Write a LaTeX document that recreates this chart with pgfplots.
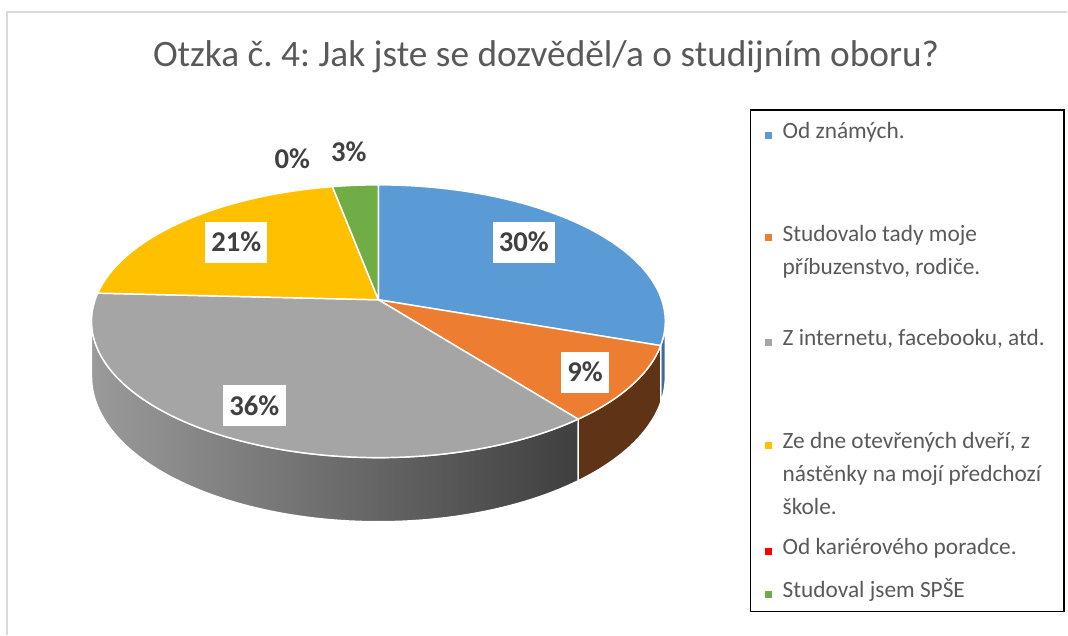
\documentclass[border=0pt]{standalone}
\usepackage{pgfplots}
\pgfplotsset{compat=1.18}
\usepackage{fontspec}
\setmainfont{Carlito}
\frenchspacing
\definecolor{cBlue}{HTML}{5B9BD5}
\definecolor{cOrange}{HTML}{ED7D31}
\definecolor{cGray}{HTML}{A5A5A5}
\definecolor{cYellow}{HTML}{FFC000}
\definecolor{cRed}{HTML}{FF0000}
\definecolor{cGreen}{HTML}{70AD47}
\definecolor{wBlue}{HTML}{3F6D99}
\definecolor{wOrange}{HTML}{5F3315}
\definecolor{wGrayL}{HTML}{9A9A9A}
\definecolor{wGrayR}{HTML}{3F3F3F}
\definecolor{cText}{HTML}{595959}
\definecolor{cLab}{HTML}{404040}
\definecolor{cFrame}{HTML}{D9D9D9}
% data (percent of answers)
\def\vA{30.3}% Od známých.
\def\vB{9.1}%  Studovalo tady moje příbuzenstvo, rodiče.
\def\vC{36.4}% Z internetu, facebooku, atd.
\def\vD{21.2}% Ze dne otevřených dveří, ...
\def\vE{0}%    Od kariérového poradce.
\def\vF{3.0}%  Studoval jsem SPŠE
\pgfmathsetmacro\aA{0}
\pgfmathsetmacro\aB{\aA+3.6*\vA}
\pgfmathsetmacro\aC{\aB+3.6*\vB}
\pgfmathsetmacro\aD{\aC+3.6*\vC}
\pgfmathsetmacro\aE{\aD+3.6*\vD}
\pgfmathsetmacro\aF{\aE+3.6*\vE}
\pgfmathsetmacro\aG{\aF+3.6*\vF}
\pgfmathsetmacro\vis{acos(-0.1575)}
\pgfmathsetmacro\visR{360-\vis}
\newcommand\sector[3]{%
  \addplot[fill=#3, draw=white, line width=1.1pt, line join=round, domain=#1:#2, samples=90]
    ({px(x)},{py(x)}) -- (axis cs:378.7,335) -- cycle;}
\newcommand\wall[3]{%
  \addplot[#3, draw=white, line width=1pt, samples at={0,0.0125,...,1,1.00001,1.0125,1.025,...,2}]
    ({px(wang(x,#1,#2))},{wy(x,#1,#2)}) -- cycle;}
\begin{document}
\begin{tikzpicture}
\begin{axis}[width=801pt,height=476.25pt,scale only axis,
  xmin=0,xmax=1068,ymin=0,ymax=635,hide axis,clip=false,
  declare function={
    pw(\t)=1+0.1575*cos(\t);
    px(\t)=378.7+283.5*sin(\t)/pw(\t);
    py(\t)=335+133.1*cos(\t)/pw(\t);
    pb(\t)=py(\t)-54/pw(\t);
    wang(\s,\a,\b)=(\s<=1)*(\a+(\b-\a)*\s)+(\s>1)*(\b-(\b-\a)*(\s-1));
    wy(\s,\a,\b)=(\s<=1)*py(wang(\s,\a,\b))+(\s>1)*pb(wang(\s,\a,\b));
  }]
\path (axis cs:0,0) rectangle (axis cs:1068,635);
\draw[cFrame, line width=1.2pt] (axis cs:7,0) -- (axis cs:7,623) -- (axis cs:1068,623);
% title
\node[anchor=base, text=cText, font=\fontsize{28}{33}\selectfont] at (axis cs:546.5,568)
  {Otzka č. 4: Jak jste se dozvěděl/a o studijním oboru?};
% side walls (front half only)
\wall{\vis}{\aB}{fill=wBlue}
\wall{\aB}{\aC}{fill=wOrange}
\wall{\aC}{\visR}{left color=wGrayL, right color=wGrayR}
% top faces
\sector{\aA}{\aB}{cBlue}
\sector{\aB}{\aC}{cOrange}
\sector{\aC}{\aD}{cGray}
\sector{\aD}{\aE}{cYellow}
\sector{\aF}{\aG}{cGreen}
% data labels
\tikzset{lab/.style={fill=white, text=cLab, font=\bfseries\fontsize{21.5}{24}\selectfont,
  inner xsep=4.7pt, inner ysep=0pt, minimum height=30.5pt}}
\node[lab] at (axis cs:524.3,392.6) {30\%};
\node[lab] at (axis cs:585.5,262.5) {9\%};
\node[lab] at (axis cs:254.5,229) {36\%};
\node[lab] at (axis cs:236.4,392.6) {21\%};
\node[anchor=base, text=cLab, font=\bfseries\fontsize{21.5}{24}\selectfont] at (axis cs:292.5,466.7) {0\%};
\node[anchor=base, text=cLab, font=\bfseries\fontsize{21.5}{24}\selectfont] at (axis cs:349,473.3) {3\%};
% legend
\draw[black, line width=1.3pt] (axis cs:751,23) rectangle (axis cs:1065,525);
\tikzset{leg/.style={anchor=base west, text=cText, font=\fontsize{17.5}{21}\selectfont, inner sep=0pt}}
\fill[cBlue]   (axis cs:766,496) rectangle (axis cs:773,503);
\node[leg] at (axis cs:783,496) {Od známých.};
\fill[cOrange] (axis cs:766,394) rectangle (axis cs:773,401);
\node[leg] at (axis cs:783,393.3) {Studovalo tady moje};
\node[leg] at (axis cs:783,360) {příbuzenstvo, rodiče.};
\fill[cGray]   (axis cs:766,289) rectangle (axis cs:773,296);
\node[leg] at (axis cs:783,289) {Z internetu, facebooku, atd.};
\fill[cYellow] (axis cs:766,186) rectangle (axis cs:773,193);
\node[leg] at (axis cs:783,186) {Ze dne otevřených dveří, z};
\node[leg] at (axis cs:783,153) {nástěnky na mojí předchozí};
\node[leg] at (axis cs:783,120) {škole.};
\fill[cRed]    (axis cs:766,80) rectangle (axis cs:773,87);
\node[leg] at (axis cs:783,80) {Od kariérového poradce.};
\fill[cGreen]  (axis cs:766,37) rectangle (axis cs:773,44);
\node[leg] at (axis cs:783,37) {Studoval jsem SPŠE};
\end{axis}
\end{tikzpicture}
\end{document}
